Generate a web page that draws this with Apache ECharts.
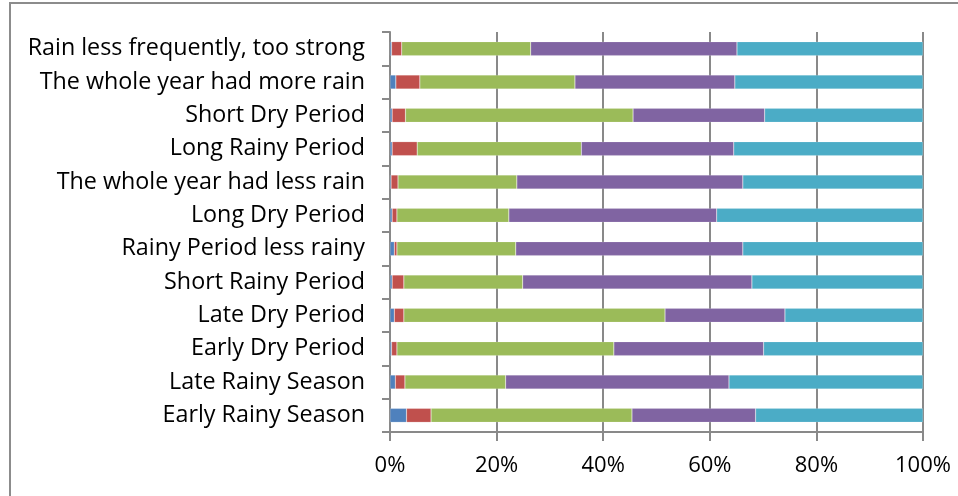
<!DOCTYPE html>
<html>
<head>
<meta charset="utf-8">
<script src="https://cdn.jsdelivr.net/npm/echarts@6/dist/echarts.min.js"></script>
<style>
  html, body { margin: 0; padding: 0; background: #fff; }
  #chart { width: 958px; height: 496px; }
</style>
</head>
<body>
<div id="chart"></div>
<script>
// Categories listed bottom to top (category axis order)
const categories = [
  'Early Rainy Season',
  'Late Rainy Season',
  'Early Dry Period',
  'Late Dry Period',
  'Short Rainy Period',
  'Rainy Period less rainy',
  'Long Dry Period',
  'The whole year had less rain',
  'Long Rainy Period',
  'Short Dry Period',
  'The whole year had more rain',
  'Rain less frequently, too strong'
];

// Shares in percent for each response group, same order as categories
const seriesA = [3.1, 1.0, 0.3, 0.8, 0.4, 0.8, 0.4, 0.2, 0.4, 0.4, 1.1, 0.3];
const seriesB = [4.6, 1.8, 1.0, 1.8, 2.2, 0.5, 0.9, 1.3, 4.7, 2.5, 4.5, 1.9];
const seriesC = [37.7, 18.9, 40.7, 49.0, 22.3, 22.3, 21.0, 22.3, 30.8, 42.7, 29.1, 24.2];
const seriesD = [23.2, 41.9, 28.1, 22.5, 43.0, 42.6, 39.0, 42.4, 28.6, 24.7, 30.0, 38.7];
const seriesE = [31.4, 36.4, 29.9, 25.9, 32.1, 33.8, 38.7, 33.8, 35.5, 29.7, 35.3, 34.9];

const xTicks = { min: 0, max: 100, interval: 20 };

const palette = ['#4F81BD', '#C0504D', '#9BBB59', '#8064A2', '#4BACC6'];
const axisGray = '#898989';
const fontFamily = '"Open Sans", Lato, sans-serif';

const groups = [seriesA, seriesB, seriesC, seriesD, seriesE];

const chart = echarts.init(document.getElementById('chart'), null, { renderer: 'canvas' });

chart.setOption({
  animation: false,
  backgroundColor: '#ffffff',
  color: palette,
  grid: { left: 390, right: 35, top: 32, bottom: 64, containLabel: false },
  graphic: [{
    type: 'rect',
    shape: { x: 10, y: 3, width: 980, height: 520 },
    style: { fill: 'none', stroke: '#8c8c8c', lineWidth: 2 },
    silent: true,
    z: 0
  }],
  xAxis: {
    type: 'value',
    min: xTicks.min,
    max: xTicks.max,
    interval: xTicks.interval,
    axisLine: { show: true, lineStyle: { color: axisGray, width: 2 } },
    axisTick: { show: true, length: 9, inside: false, lineStyle: { color: axisGray, width: 2 } },
    axisLabel: {
      formatter: '{value}%',
      color: '#000',
      fontSize: 22,
      fontFamily: fontFamily,
      margin: 23
    },
    splitLine: { show: true, lineStyle: { color: axisGray, width: 2 } }
  },
  yAxis: {
    type: 'category',
    data: categories,
    axisLine: { show: true, lineStyle: { color: axisGray, width: 2 } },
    axisTick: { show: true, length: 8, alignWithLabel: false, lineStyle: { color: axisGray, width: 2 } },
    axisLabel: {
      color: '#000',
      fontSize: 23.3,
      fontFamily: fontFamily,
      margin: 25
    },
    splitLine: { show: false }
  },
  series: groups.map((vals, i) => ({
    name: 'group' + (i + 1),
    type: 'bar',
    stack: 'share',
    barWidth: 14,
    data: vals,
    itemStyle: { color: palette[i], borderColor: 'rgba(255,255,255,0.35)', borderWidth: 0.5 },
    z: 3
  }))
});
</script>
</body>
</html>
